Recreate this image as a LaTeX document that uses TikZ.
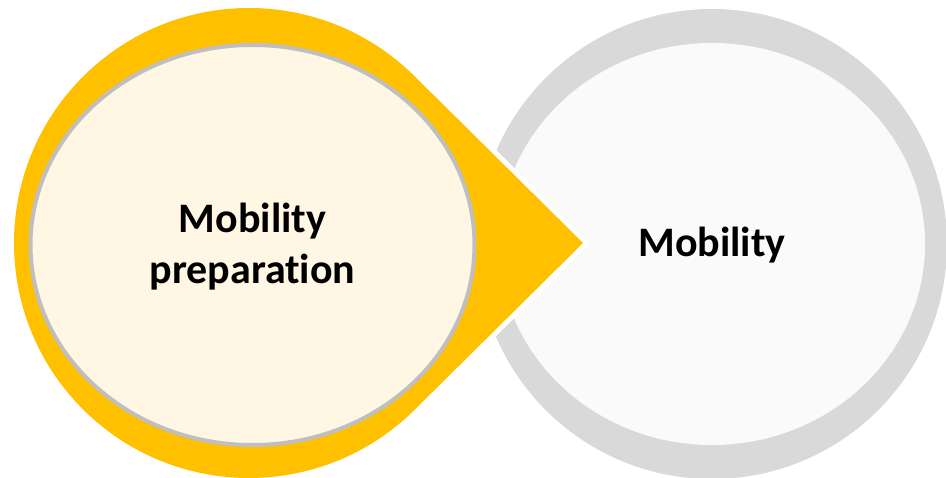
\documentclass[tikz,border=0pt]{standalone}
\usepackage{fontspec}
\setmainfont{Carlito}[Ligatures=NoCommon]
\usetikzlibrary{calc}
\definecolor{gold}{HTML}{FFC000}
\definecolor{creamfill}{HTML}{FFF7E4}
\definecolor{creamline}{HTML}{BFBFBF}
\definecolor{ringgray}{HTML}{D9D9D9}
\definecolor{innergray}{HTML}{FAFAFA}
\tikzset{pointer/.style = {fill=gold, preaction={draw=white, line width=10pt, line join=miter}}}
\tikzset{label text/.style = {font=\bfseries\fontsize{42}{51}\selectfont, align=center, inner sep=0pt}}
\begin{document}
\begin{tikzpicture}[x=1pt, y=-1pt]
\useasboundingbox (0,0) rectangle (946,478);
\clip (0,0) rectangle (946,478);
\coordinate (L) at (249,243);
\coordinate (T) at (583,243);
\coordinate (R) at (712,244);
\coordinate (E) at (252.5,245);
\fill[ringgray] (R) circle[radius=235];
\fill[innergray] (R) ellipse[x radius=213, y radius=201];
\path[pointer] (T) -- ($(L)+(-45.3:235)$) arc[start angle=-45.3, end angle=-314.7, radius=235] -- cycle;
\draw[creamline, fill=creamfill, line width=4pt] (E) ellipse[x radius=222, y radius=200];
\node[label text] (prep) at ($(E)+(0,2)$) {Mobility\\preparation};
\node[label text, anchor=base] (mob) at (712,257) {Mobility};
\end{tikzpicture}
\end{document}
